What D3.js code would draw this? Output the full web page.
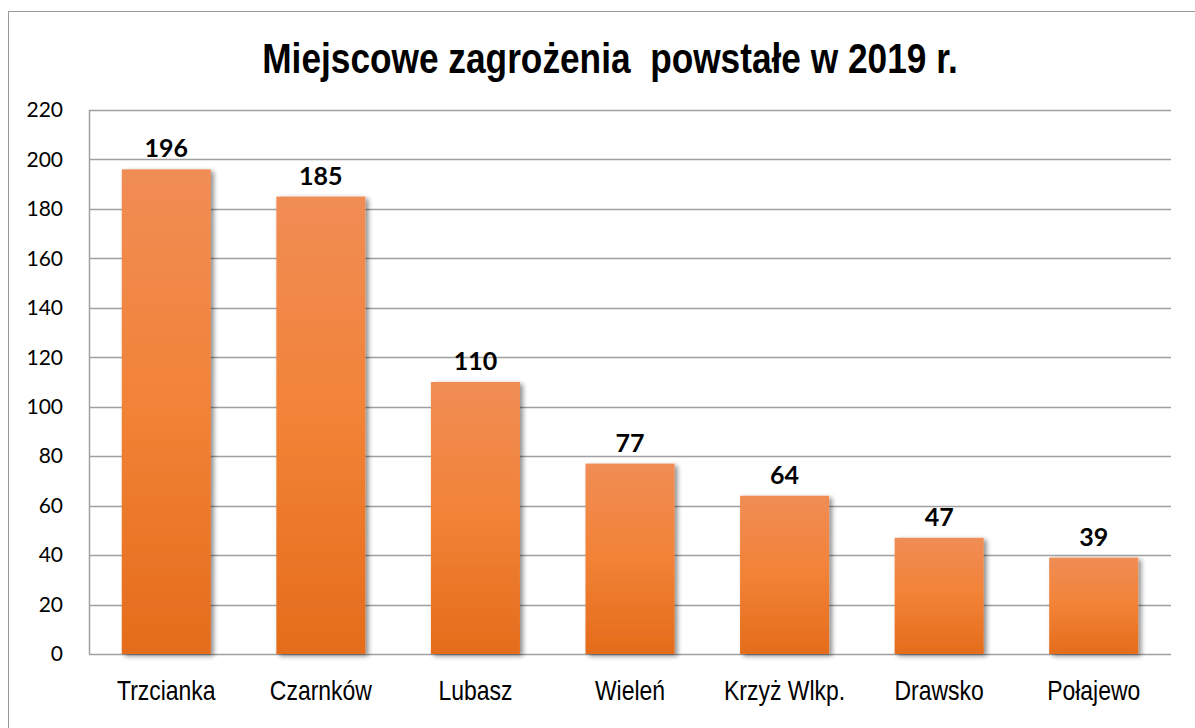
<!DOCTYPE html>
<html>
<head>
<meta charset="utf-8">
<script src="https://cdn.jsdelivr.net/npm/d3@7"></script>
<style>
  body { margin: 0; background: #fff; }
  svg { display: block; }
</style>
</head>
<body>
<div id="chart"></div>
<script>
// Chart data
const categories = ["Trzcianka", "Czarnków", "Lubasz", "Wieleń", "Krzyż Wlkp.", "Drawsko", "Połajewo"];
const values = [196, 185, 110, 77, 64, 47, 39];
const yTicks = [0, 20, 40, 60, 80, 100, 120, 140, 160, 180, 200, 220];
const title = "Miejscowe zagrożenia  powstałe w 2019 r.";

const W = 1195, H = 728;
const margin = { top: 110, right: 24, bottom: 74, left: 89 };
const width = W - margin.left - margin.right;
const height = H - margin.top - margin.bottom;

// no narrow font installed, so squeeze Liberation Sans instead
const narrow = 0.82;

const root = d3.select("#chart").append("svg")
    .attr("width", W)
    .attr("height", H);

// gradient + shadow
const defs = root.append("defs");
const grad = defs.append("linearGradient")
    .attr("id", "barGrad")
    .attr("x1", 0).attr("y1", 0).attr("x2", 0).attr("y2", 1);
grad.append("stop").attr("offset", "0%").attr("stop-color", "#f08d55");
grad.append("stop").attr("offset", "50%").attr("stop-color", "#f28236");
grad.append("stop").attr("offset", "100%").attr("stop-color", "#e46c1b");

const shadow = defs.append("filter").attr("id", "shadow")
    .attr("x", "-20%").attr("y", "-20%").attr("width", "150%").attr("height", "150%");
shadow.append("feGaussianBlur").attr("in", "SourceAlpha").attr("stdDeviation", 2.5);
shadow.append("feOffset").attr("dx", 3).attr("dy", 2).attr("result", "blur");
shadow.append("feComponentTransfer").append("feFuncA").attr("type", "linear").attr("slope", 0.45);
const merge = shadow.append("feMerge");
merge.append("feMergeNode");
merge.append("feMergeNode").attr("in", "SourceGraphic");

// outer frame
root.append("rect")
    .attr("x", 8.5).attr("y", 11.5)
    .attr("width", W + 20).attr("height", H + 20)
    .attr("fill", "none")
    .attr("stroke", "#9a9a9a")
    .attr("stroke-width", 1);

// title
root.append("text")
    .attr("transform", `translate(610,73) scale(${narrow},1)`)
    .attr("text-anchor", "middle")
    .style("white-space", "pre")
    .attr("font-family", "'Liberation Sans', Arial, sans-serif")
    .attr("font-weight", "bold")
    .attr("font-size", 43)
    .attr("fill", "#000")
    .text(title);

const svg = root.append("g")
    .attr("transform", `translate(${margin.left},${margin.top})`);

// scales
const x = d3.scaleBand()
    .domain(categories)
    .range([0, width])
    .paddingInner(0.424)
    .paddingOuter(0.212);

const y = d3.scaleLinear()
    .domain([0, 220])
    .range([height, 0]);

// gridlines
svg.append("g")
    .selectAll("line")
    .data(yTicks)
    .enter()
    .append("line")
    .attr("x1", 0)
    .attr("x2", width)
    .attr("y1", d => Math.round(y(d)) + 0.5)
    .attr("y2", d => Math.round(y(d)) + 0.5)
    .attr("stroke", "#a0a0a0")
    .attr("stroke-width", 1.5);

// y axis line
svg.append("line")
    .attr("x1", 0.5).attr("x2", 0.5)
    .attr("y1", 0).attr("y2", height)
    .attr("stroke", "#a0a0a0")
    .attr("stroke-width", 1.5);

// y axis labels
const yAxis = d3.axisLeft(y)
    .tickValues(yTicks)
    .tickSize(0)
    .tickPadding(26);

svg.append("g")
    .call(yAxis)
    .call(g => g.select(".domain").remove())
    .selectAll("text")
    .attr("font-family", "Lato, 'Open Sans', sans-serif")
    .attr("font-size", 21)
    .attr("fill", "#000");

// x axis labels
const xAxis = d3.axisBottom(x)
    .tickSize(0)
    .tickPadding(26);

svg.append("g")
    .attr("transform", `translate(0,${height})`)
    .call(xAxis)
    .call(g => g.select(".domain").remove())
    .selectAll("text")
    .attr("transform", `scale(${narrow},1)`)
    .attr("font-family", "'Liberation Sans', Arial, sans-serif")
    .attr("font-size", 28)
    .attr("fill", "#000");

// bars
svg.selectAll(".bar")
    .data(values)
    .enter()
    .append("rect")
    .attr("class", "bar")
    .attr("x", (d, i) => x(categories[i]))
    .attr("y", d => y(d))
    .attr("width", x.bandwidth())
    .attr("height", d => height - y(d))
    .attr("fill", "url(#barGrad)")
    .attr("filter", "url(#shadow)");

// value labels
svg.selectAll(".label")
    .data(values)
    .enter()
    .append("text")
    .attr("class", "label")
    .attr("x", (d, i) => x(categories[i]) + x.bandwidth() / 2)
    .attr("y", d => y(d) - 12)
    .attr("text-anchor", "middle")
    .attr("font-family", "Lato, 'Open Sans', sans-serif")
    .attr("font-weight", "bold")
    .attr("font-size", 25)
    .attr("fill", "#000")
    .text(d => d);
</script>
</body>
</html>
